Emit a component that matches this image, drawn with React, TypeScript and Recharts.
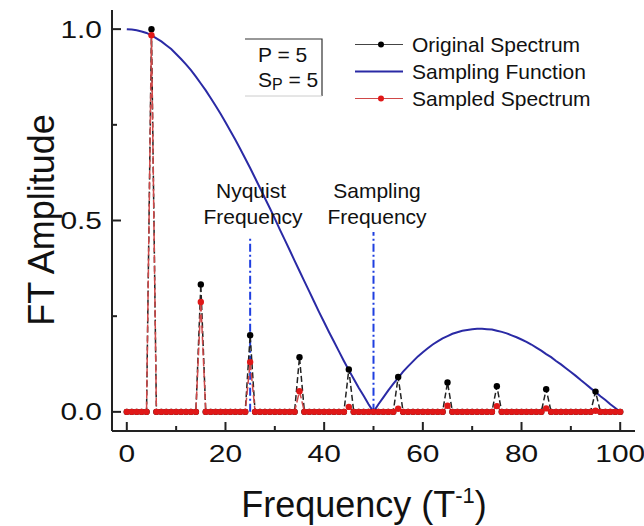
import React from "react";
import { LineChart, Line, XAxis, YAxis, ReferenceLine } from "recharts";

const FONT = "'Liberation Sans', Arial, sans-serif";

const frequency = [
  0, 1, 2, 3, 4, 5, 6, 7, 8, 9, 10, 11, 12, 13, 14, 15, 16, 17, 18, 19, 20,
  21, 22, 23, 24, 25, 26, 27, 28, 29, 30, 31, 32, 33, 34, 35, 36, 37, 38, 39, 40,
  41, 42, 43, 44, 45, 46, 47, 48, 49, 50, 51, 52, 53, 54, 55, 56, 57, 58, 59, 60,
  61, 62, 63, 64, 65, 66, 67, 68, 69, 70, 71, 72, 73, 74, 75, 76, 77, 78, 79, 80,
  81, 82, 83, 84, 85, 86, 87, 88, 89, 90, 91, 92, 93, 94, 95, 96, 97, 98, 99, 100,
];

// spectrum is zero everywhere except at these harmonics
const peakFrequency = [5, 15, 25, 35, 45, 55, 65, 75, 85, 95];
const originalPeak = [1.0, 0.333, 0.2, 0.143, 0.111, 0.091, 0.077, 0.067, 0.059, 0.053];
const sampledPeak = [0.984, 0.287, 0.13, 0.054, 0.013, 0.008, 0.016, 0.015, 0.009, 0.003];

const samplingFunction = [
  1.0, 0.999, 0.997, 0.994, 0.99, 0.984, 0.976, 0.968, 0.958, 0.948, 0.935,
  0.922, 0.908, 0.893, 0.876, 0.858, 0.84, 0.82, 0.8, 0.779, 0.757,
  0.734, 0.711, 0.687, 0.662, 0.637, 0.611, 0.585, 0.558, 0.532, 0.505,
  0.477, 0.45, 0.423, 0.395, 0.368, 0.341, 0.314, 0.287, 0.26, 0.234,
  0.208, 0.183, 0.158, 0.133, 0.109, 0.086, 0.063, 0.042, 0.02, 0.0,
  0.02, 0.038, 0.056, 0.073, 0.089, 0.105, 0.119, 0.132, 0.145, 0.156,
  0.166, 0.176, 0.184, 0.192, 0.198, 0.204, 0.208, 0.212, 0.214, 0.216,
  0.217, 0.217, 0.216, 0.215, 0.212, 0.209, 0.205, 0.2, 0.195, 0.189,
  0.183, 0.176, 0.168, 0.16, 0.151, 0.143, 0.133, 0.124, 0.114, 0.104,
  0.094, 0.083, 0.073, 0.062, 0.052, 0.041, 0.031, 0.02, 0.01, 0.0,
];

const xTicks = [0, 10, 20, 30, 40, 50, 60, 70, 80, 90, 100];
const yTicks = [0, 0.25, 0.5, 0.75, 1.0];

const data = frequency.map((f, i) => {
  const k = peakFrequency.indexOf(f);
  return {
    f,
    orig: k >= 0 ? originalPeak[k] : 0,
    samp: k >= 0 ? sampledPeak[k] : 0,
    fn: samplingFunction[i],
  };
});

const AXIS = "#222";

// tick labels in the original are a bit wide, so stretch them horizontally
const BottomTick = (props) => {
  const { x, y, payload } = props;
  const major = payload.value % 20 === 0;
  return (
    <g>
      <line x1={x} x2={x} y1={y} y2={y - (major ? 9 : 5)} stroke={AXIS} strokeWidth={2} />
      {major && (
        <text
          transform={`translate(${x},${y + 31}) scale(1.3,1)`}
          textAnchor="middle"
          fontSize={23}
          fontFamily={FONT}
          fill="#111"
        >
          {payload.value}
        </text>
      )}
    </g>
  );
};

const TopTick = (props) => {
  const { x, y, payload } = props;
  const major = payload.value % 20 === 0;
  return <line x1={x} x2={x} y1={y} y2={y + (major ? 9 : 5)} stroke={AXIS} strokeWidth={2} />;
};

const LeftTick = (props) => {
  const { x, y, payload } = props;
  const major = payload.value % 0.5 === 0;
  return (
    <g>
      <line x1={x} x2={x + (major ? 9 : 5)} y1={y} y2={y} stroke={AXIS} strokeWidth={2} />
      {major && (
        <text
          transform={`translate(${x - 10},${y + 8.5}) scale(1.3,1)`}
          textAnchor="end"
          fontSize={23}
          fontFamily={FONT}
          fill="#111"
        >
          {payload.value.toFixed(1)}
        </text>
      )}
    </g>
  );
};

const RightTick = (props) => {
  const { x, y, payload } = props;
  const major = payload.value % 0.5 === 0;
  return <line x1={x} x2={x - (major ? 9 : 5)} y1={y} y2={y} stroke={AXIS} strokeWidth={2} />;
};

const legendRows = [
  { name: "Original Spectrum", color: "#444", dot: "#000", width: 1 },
  { name: "Sampling Function", color: "#2a2aa5", dot: null, width: 2 },
  { name: "Sampled Spectrum", color: "#d04848", dot: "#e01818", width: 1 },
];

const LegendBox = () => (
  <div
    style={{
      position: "absolute",
      left: 355,
      top: 31,
      fontFamily: FONT,
      fontSize: 21,
      color: "#111",
    }}
  >
    {legendRows.map((r) => (
      <div key={r.name} style={{ display: "flex", alignItems: "center", height: 27 }}>
        <svg width={57} height={27} style={{ flex: "none" }}>
          <line x1={0} x2={48} y1={13.5} y2={13.5} stroke={r.color} strokeWidth={r.width} />
          {r.dot && <circle cx={26} cy={13.5} r={3} fill={r.dot} />}
        </svg>
        <span style={{ lineHeight: "27px", whiteSpace: "nowrap" }}>{r.name}</span>
      </div>
    ))}
  </div>
);

export default function App() {
  return (
    <div style={{ position: "absolute", left: 0, top: 0, width: 644, height: 526, background: "#fff" }}>
      <LineChart width={644} height={526} data={data} margin={{ top: 10, right: 9, bottom: 0, left: 0 }}>
        <XAxis
          xAxisId="b"
          dataKey="f"
          type="number"
          domain={[-3, 103]}
          allowDataOverflow
          ticks={xTicks}
          interval={0}
          height={95}
          tickSize={0}
          tickMargin={0}
          tick={<BottomTick />}
          axisLine={{ stroke: AXIS, strokeWidth: 2 }}
        />
        <XAxis
          xAxisId="t"
          dataKey="f"
          type="number"
          orientation="top"
          domain={[-3, 103]}
          allowDataOverflow
          ticks={xTicks}
          interval={0}
          height={0}
          tickSize={0}
          tickMargin={0}
          tick={<TopTick />}
          axisLine={{ stroke: AXIS, strokeWidth: 2 }}
        />
        <YAxis
          yAxisId="l"
          type="number"
          domain={[-0.05, 1.05]}
          allowDataOverflow
          ticks={yTicks}
          interval={0}
          width={112}
          tickSize={0}
          tickMargin={0}
          tick={<LeftTick />}
          axisLine={{ stroke: AXIS, strokeWidth: 2 }}
        />
        <YAxis
          yAxisId="r"
          type="number"
          orientation="right"
          domain={[-0.05, 1.05]}
          allowDataOverflow
          ticks={yTicks}
          interval={0}
          width={0}
          tickSize={0}
          tickMargin={0}
          tick={<RightTick />}
          axisLine={{ stroke: AXIS, strokeWidth: 2 }}
        />
        <ReferenceLine
          xAxisId="b"
          yAxisId="l"
          segment={[{ x: 25, y: 0 }, { x: 25, y: 0.46 }]}
          stroke="#1f3fe0"
          strokeWidth={2}
          strokeDasharray="8 3 2 3"
        />
        <ReferenceLine
          xAxisId="b"
          yAxisId="l"
          segment={[{ x: 50, y: 0 }, { x: 50, y: 0.47 }]}
          stroke="#1f3fe0"
          strokeWidth={2}
          strokeDasharray="8 3 2 3"
        />
        <Line
          xAxisId="b"
          yAxisId="l"
          type="linear"
          dataKey="fn"
          stroke="#2a2aa5"
          strokeWidth={2}
          dot={false}
          isAnimationActive={false}
        />
        <Line
          xAxisId="b"
          yAxisId="l"
          type="linear"
          dataKey="orig"
          stroke="#222"
          strokeWidth={1.5}
          strokeDasharray="6 3"
          dot={{ r: 3.2, fill: "#000", stroke: "none" }}
          isAnimationActive={false}
        />
        <Line
          xAxisId="b"
          yAxisId="l"
          type="linear"
          dataKey="samp"
          stroke="#d04848"
          strokeWidth={1.5}
          strokeDasharray="8 3"
          dot={{ r: 3.2, fill: "#e01818", stroke: "none" }}
          isAnimationActive={false}
        />
      </LineChart>
      <LegendBox />
      <svg
        width={644}
        height={526}
        style={{ position: "absolute", left: 0, top: 0, pointerEvents: "none" }}
        fontFamily={FONT}
        fill="#111"
      >
        <path d="M245 39 H322 V96" stroke="#333" strokeWidth={1.2} fill="none" />
        <path d="M245 96 H322" stroke="#ccc" strokeWidth={1} fill="none" />
        <text x={258} y={62} fontSize={21}>P = 5</text>
        <text x={258} y={87} fontSize={21}>
          S<tspan fontSize={16} dy={3}>P</tspan>
          <tspan dy={-3}> = 5</tspan>
        </text>
        <text x={251} y={198} fontSize={21} textAnchor="middle">Nyquist</text>
        <text x={253} y={224} fontSize={21} textAnchor="middle">Frequency</text>
        <text x={377} y={198} fontSize={21} textAnchor="middle">Sampling</text>
        <text x={377} y={224} fontSize={21} textAnchor="middle">Frequency</text>
        <text x={364} y={517} fontSize={36} textAnchor="middle">
          Frequency (T<tspan fontSize={22} dy={-14}>-1</tspan>
          <tspan dy={14}>)</tspan>
        </text>
        <text x={54} y={220} fontSize={36} textAnchor="middle" transform="rotate(-90 54 220)">
          FT Amplitude
        </text>
      </svg>
    </div>
  );
}
